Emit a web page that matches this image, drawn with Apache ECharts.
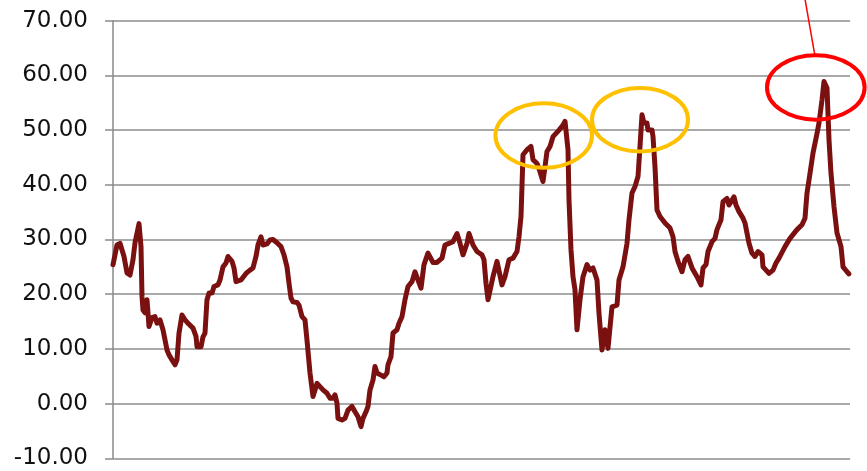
<!DOCTYPE html>
<html>
<head>
<meta charset="utf-8">
<script src="https://cdn.jsdelivr.net/npm/echarts@6/dist/echarts.min.js"></script>
<style>
  html, body { margin: 0; padding: 0; background: #ffffff; }
  #chart { width: 867px; height: 471px; }
</style>
</head>
<body>
<div id="chart"></div>
<script>
// Observation index along the horizontal axis
const obsIndex = [
  0, 4, 7, 10, 11, 14, 17, 20, 22, 26, 28, 29, 30, 32, 34, 36, 39, 42, 44, 47,
  50, 54, 56, 59, 62, 64, 66, 69, 72, 75, 80, 83, 84, 88, 90, 92, 94, 96, 99, 101,
  105, 107, 110, 113, 115, 119, 121, 123, 125, 128, 130, 133, 137, 140, 143, 145, 148, 150, 154, 157,
  160, 164, 168, 171, 174, 176, 178, 180, 184, 186, 189, 192, 194, 197, 200, 202, 204, 207, 210, 214,
  217, 220, 222, 224, 225, 229, 232, 235, 239, 242, 245, 248, 250, 253, 255, 257, 260, 262, 264, 268,
  271, 274, 275, 278, 280, 284, 286, 289, 292, 295, 299, 302, 304, 308, 311, 315, 320, 324, 329, 332,
  336, 340, 344, 347, 350, 354, 356, 360, 364, 369, 371, 373, 375, 377, 380, 384, 389, 392, 396, 400,
  404, 406, 408, 410, 414, 418, 420, 424, 427, 430, 432, 434, 437, 440, 443, 446, 450, 452, 454, 455,
  456, 458, 460, 462, 464, 467, 470, 474, 477, 480, 484, 486, 489, 492, 495, 499, 504, 506, 510, 514,
  516, 519, 522, 525, 527, 529, 531, 534, 535, 539, 540, 542, 544, 547, 552, 557, 560, 562, 565, 569,
  572, 575, 579, 584, 588, 590, 593, 595, 599, 602, 604, 608, 610, 614, 616, 619, 621, 623, 626, 630,
  632, 634, 636, 639, 642, 645, 649, 650, 653, 656, 660, 663, 666, 672, 677, 684, 689, 692, 694, 697,
  700, 704, 706, 709, 711, 714, 715, 716, 718, 721, 724, 728, 730, 734, 736
];

// Series values
const ratio = [
  25.4, 29.0, 29.3, 27.5, 26.9, 23.9, 23.5, 26.3, 29.4, 32.9, 28.7, 19.6, 17.1, 16.6, 19.0, 14.1, 15.7, 15.9, 14.7, 15.3,
  13.5, 9.8, 8.9, 8.0, 7.1, 8.0, 12.9, 16.2, 15.3, 14.7, 13.8, 12.3, 10.4, 10.4, 12.2, 12.9, 19.0, 20.2, 20.2, 21.4,
  21.7, 22.6, 25.0, 25.7, 26.9, 26.0, 24.8, 22.3, 22.0, 22.6, 22.3, 23.8, 24.4, 24.8, 26.9, 29.0, 30.5, 29.0, 29.2, 29.9,
  30.0, 29.4, 28.7, 27.2, 25.0, 22.0, 19.3, 18.6, 18.5, 18.0, 15.9, 15.3, 11.6, 5.6, 1.3, 2.5, 3.7, 3.1, 2.5, 1.9,
  1.0, 1.0, 1.6, 0.1, -2.7, -3.0, -2.7, -1.2, -0.5, -1.5, -2.4, -4.2, -2.7, -1.5, -0.5, 2.5, 4.3, 6.8, 5.6, 5.2,
  4.9, 5.6, 7.1, 8.6, 12.9, 13.5, 14.7, 15.9, 19.0, 21.4, 22.3, 24.1, 24.1, 21.1, 25.4, 27.5, 25.8, 25.8, 26.6, 29.0,
  29.3, 29.6, 31.1, 29.3, 27.2, 29.3, 31.1, 29.0, 27.8, 27.2, 26.3, 22.0, 19.0, 19.3, 23.2, 26.0, 21.7, 23.2, 26.3, 26.6,
  27.8, 30.5, 34.2, 45.5, 46.4, 47.0, 44.6, 43.9, 42.4, 40.6, 43.3, 46.1, 47.0, 48.8, 49.4, 50.0, 50.9, 51.6, 51.9, 46.4,
  37.2, 28.1, 23.2, 20.8, 13.5, 19.0, 23.2, 25.4, 24.4, 24.8, 22.6, 16.5, 9.8, 13.5, 10.1, 17.7, 18.0, 22.6, 25.0, 29.3,
  33.6, 38.5, 39.7, 41.5, 47.0, 52.8, 51.3, 51.3, 50.0, 50.0, 48.8, 43.3, 35.4, 34.2, 33.0, 32.1, 30.5, 27.8, 26.0, 24.1,
  26.3, 26.9, 24.8, 23.2, 21.7, 24.8, 25.4, 27.8, 29.6, 30.2, 31.8, 33.6, 36.9, 37.5, 36.3, 37.2, 37.8, 36.3, 35.1, 33.9,
  33.0, 32.7, 29.3, 27.5, 26.9, 27.8, 27.2, 25.0, 24.4, 23.8, 24.4, 25.7, 26.6, 28.7, 30.2, 31.8, 32.7, 33.9, 38.5, 42.1,
  45.8, 49.4, 51.3, 55.5, 58.9, 57.7, 57.4, 48.2, 42.1, 36.0, 31.2, 28.7, 25.0, 24.1, 23.7
];

// Value-axis ticks
const yTicks = [-10, 0, 10, 20, 30, 40, 50, 60, 70];

const chart = echarts.init(document.getElementById('chart'), null, { renderer: 'canvas' });

const lineData = obsIndex.map((t, i) => [t, ratio[i]]);

chart.setOption({
  animation: false,
  backgroundColor: '#ffffff',
  grid: { left: 113, right: 17, top: 20.7, bottom: 12.7, containLabel: false },
  xAxis: {
    type: 'value',
    min: 0,
    max: 737,
    show: true,
    axisLine: { show: false },
    axisTick: { show: false },
    axisLabel: { show: false },
    splitLine: { show: false }
  },
  yAxis: {
    type: 'value',
    min: yTicks[0],
    max: yTicks[yTicks.length - 1],
    interval: yTicks[1] - yTicks[0],
    axisLine: { show: true, lineStyle: { color: '#8a8a8a', width: 1.5 } },
    axisTick: { show: true, inside: false, length: 8, lineStyle: { color: '#8a8a8a', width: 1.5 } },
    axisLabel: {
      margin: 25,
      fontFamily: 'DejaVu Sans',
      fontSize: 23,
      color: '#111111',
      formatter: v => v.toFixed(2)
    },
    splitLine: { show: true, lineStyle: { color: '#8c8c8c', width: 1.5 } }
  },
  series: [{
    type: 'line',
    data: lineData,
    showSymbol: false,
    symbol: 'none',
    lineStyle: { color: '#7a1010', width: 5, cap: 'round', join: 'round' },
    z: 3
  }]
});

// Callout ellipses around the three highlighted peaks (centres in data units, radii in px)
const callouts = [
  { at: [430.7, 49.0], rx: 48.3, ry: 32.2, color: '#ffc000' },
  { at: [527.0, 51.9], rx: 48.0, ry: 31.8, color: '#ffc000' },
  { at: [702.8, 57.8], rx: 48.8, ry: 32.2, color: '#ff0000', leader: true }
];

const graphics = [];
callouts.forEach(c => {
  const p = chart.convertToPixel({ gridIndex: 0 }, c.at);
  graphics.push({
    type: 'ellipse',
    shape: { cx: p[0], cy: p[1], rx: c.rx, ry: c.ry },
    style: { fill: null, stroke: c.color, lineWidth: 4 },
    z: 10
  });
  if (c.leader) {
    graphics.push({
      type: 'line',
      shape: { x1: p[0] - 1, y1: p[1] - c.ry, x2: p[0] - 11, y2: -2 },
      style: { stroke: c.color, lineWidth: 1.5 },
      z: 10
    });
  }
});
chart.setOption({ graphic: graphics });
</script>
</body>
</html>
